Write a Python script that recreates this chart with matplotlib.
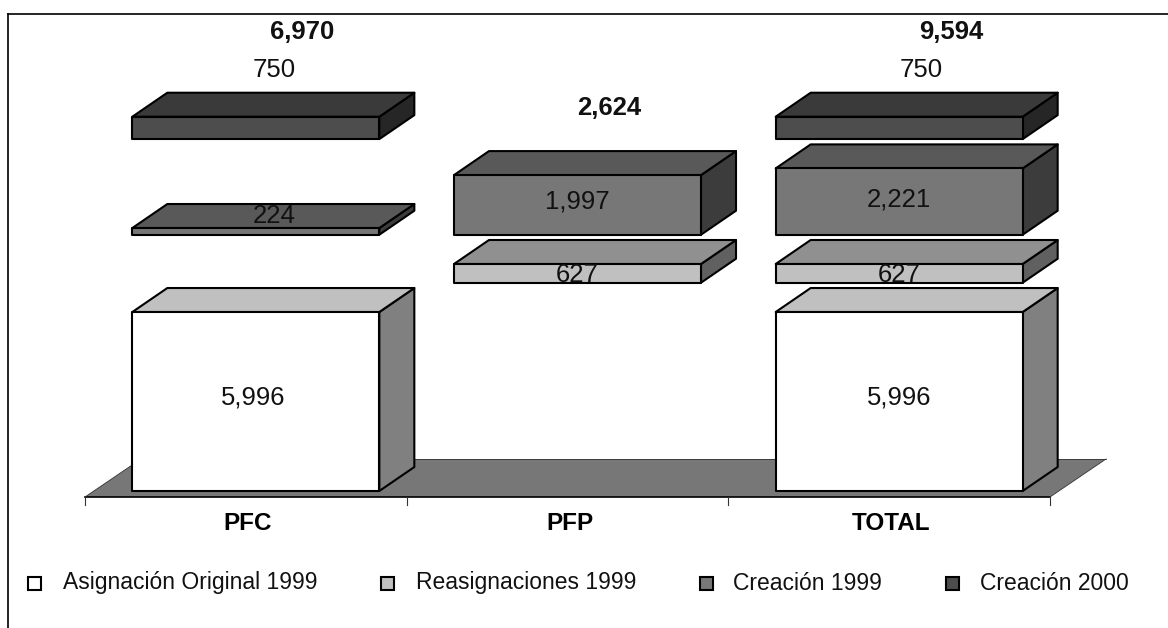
import matplotlib
matplotlib.use("Agg")
import matplotlib.pyplot as plt
from matplotlib.patches import Polygon, Rectangle
from matplotlib.lines import Line2D

plt.rcParams['font.family'] = ['Liberation Sans', 'DejaVu Sans']

categories = ['PFC', 'PFP', 'TOTAL']
series_names = ['Asignación Original 1999', 'Reasignaciones 1999', 'Creación 1999', 'Creación 2000']
original_1999 = [5996, 0, 5996]
reasign_1999 = [0, 627, 627]
creacion_1999 = [224, 1997, 2221]
creacion_2000 = [750, 0, 750]
totals = ['6,970', '2,624', '9,594']

W, H = 1168, 628
K = 0.02985            # px per unit
CAT = 321.67           # px per category
X0, Y0 = 85, 491       # px of first category edge / baseline

front = ['#ffffff', '#c0c0c0', '#777777', '#4d4d4d']
top = ['#c0c0c0', '#909090', '#595959', '#3a3a3a']
side = ['#808080', '#606060', '#3c3c3c', '#262626']

fig = plt.figure(figsize=(W / 100, H / 100), dpi=100, facecolor='white')
ax = fig.add_axes([0, 0, 1, 1])
ax.set_xlim(-X0 / CAT, (W - X0) / CAT)
ax.set_ylim((Y0 - H) / K, Y0 / K)
ax.axis('off')

DX, DY = 35 / CAT, 24 / K
GAP = 29.3 / K
BW = 247 / CAT
OFF = 0.5 + 10 / CAT
FLOOR_F, FLOOR_B = -6 / K, 32 / K
FLOOR_DX = 56 / CAT

ax.add_patch(Polygon([(0, FLOOR_F), (3, FLOOR_F), (3 + FLOOR_DX, FLOOR_B), (FLOOR_DX, FLOOR_B)],
                     closed=True, fc='#777777', ec='none', zorder=1))
ax.plot([0, 3], [FLOOR_F, FLOOR_F], color='black', lw=1.2, zorder=2)
ax.plot([0, FLOOR_DX], [FLOOR_F, FLOOR_B], color='#333333', lw=0.6, zorder=2)
ax.plot([3, 3 + FLOOR_DX], [FLOOR_F, FLOOR_B], color='#333333', lw=0.6, zorder=2)
ax.plot([FLOOR_DX, 3 + FLOOR_DX], [FLOOR_B, FLOOR_B], color='#333333', lw=0.6, zorder=2)
for i in range(4):
    ax.plot([i, i], [FLOOR_F, FLOOR_F - 8 / K], color='#333333', lw=0.8, zorder=2)


def box(xc, y0, h, idx):
    l, r = xc - BW / 2, xc + BW / 2
    kw = dict(closed=True, ec='black', lw=1.5, joinstyle='round', zorder=3)
    ax.add_patch(Polygon([(r, y0), (r + DX, y0 + DY), (r + DX, y0 + h + DY), (r, y0 + h)], fc=side[idx], **kw))
    ax.add_patch(Polygon([(l, y0 + h), (r, y0 + h), (r + DX, y0 + h + DY), (l + DX, y0 + h + DY)], fc=top[idx], **kw))
    ax.add_patch(Polygon([(l, y0), (r, y0), (r, y0 + h), (l, y0 + h)], fc=front[idx], **kw))


series = [original_1999, reasign_1999, creacion_1999, creacion_2000]
base = 0
for s, vals in enumerate(series):
    for c, v in enumerate(vals):
        if v:
            box(c + OFF, base, v, s)
    base += max(vals) + GAP

for c, name in enumerate(categories):
    ax.text(c + 0.5 + 2 / CAT, -33 / K, name, ha='center', va='center', fontsize=17.5,
            fontweight='bold', color='black', zorder=5)

TXT = 18.5
def lab(px, py, s, **kw):
    ax.text((px - X0) / CAT, (Y0 - py) / K, s, ha='center', va='center', fontsize=TXT,
            color='#111111', zorder=5, **kw)

# label placements (pixel layout)
lab(253, 398, f'{original_1999[0]:,}')
lab(899, 398, f'{original_1999[2]:,}')
lab(577, 275, f'{reasign_1999[1]:,}')
lab(899, 275, f'{reasign_1999[2]:,}')
lab(274, 216, f'{creacion_1999[0]:,}')
lab(577, 202, f'{creacion_1999[1]:,}')
lab(899, 200, f'{creacion_1999[2]:,}')
lab(274, 70, f'{creacion_2000[0]:,}')
lab(921, 70, f'{creacion_2000[2]:,}')
lab(302, 32, totals[0], fontweight='bold')
lab(609, 108, totals[1], fontweight='bold')
lab(951, 32, totals[2], fontweight='bold')

# legend (pixel layout: square centre, text start)
leg_sq = [34, 387, 706, 953]
leg_tx = [63, 416, 733, 980]
for i, name in enumerate(series_names):
    fig.add_artist(Rectangle(((leg_sq[i] - 6.5) / W, 1 - 590 / H), 13 / W, 13 / H, transform=fig.transFigure,
                             fc=front[i], ec='black', lw=1.5))
    fig.text(leg_tx[i] / W, 1 - 583 / H, name, ha='left', va='center', fontsize=16.5, color='#111111')

# chart area frame: only the top and left edges show
fig.add_artist(Line2D([8 / W, 8 / W], [0, 1 - 14 / H], transform=fig.transFigure, color='black', lw=1.2))
fig.add_artist(Line2D([8 / W, 1], [1 - 14 / H, 1 - 14 / H], transform=fig.transFigure, color='black', lw=1.2))
fig.savefig('out.png', dpi=100)
